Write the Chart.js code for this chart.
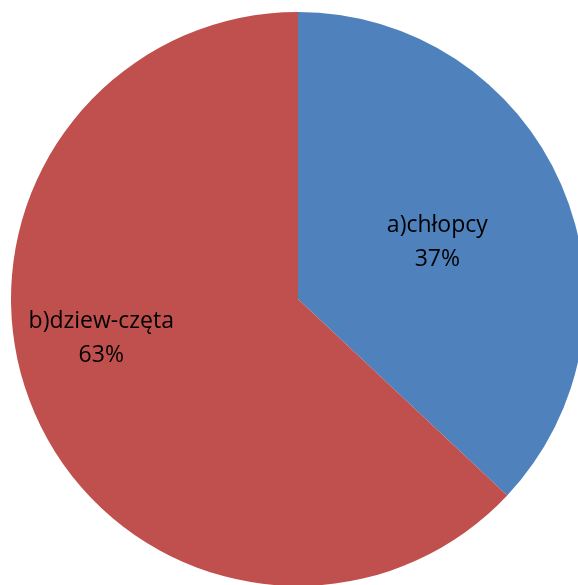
<!DOCTYPE html>
<html lang="pl">
<head>
  <meta charset="UTF-8" />
  <title>Pie</title>
  <script src="https://cdn.jsdelivr.net/npm/chart.js"></script>
  <style>
    html, body { margin: 0; padding: 0; background: #fff; overflow: hidden; }
    .wrap { width: 578px; height: 585px; }
  </style>
</head>
<body>
  <div class="wrap"><canvas id="pie" width="578" height="585"></canvas></div>
  <script>
    const categories = ['a)chłopcy', 'b)dziew-częta'];
    const values = [37, 63];
    const colors = ['#4F81BD', '#C0504D'];

    // where each label sits: angle from 12 o'clock (deg) and fraction of radius
    const labelSpots = [
      { angle: 70.5, dist: 0.515 },
      { angle: 256.5, dist: 0.705 }
    ];

    const pieLabels = {
      id: 'pieLabels',
      afterDatasetsDraw(chart) {
        const ctx = chart.ctx;
        const meta = chart.getDatasetMeta(0);
        const total = values.reduce((a, b) => a + b, 0);
        ctx.save();
        ctx.fillStyle = '#000';
        ctx.font = '23px "Open Sans", sans-serif';
        ctx.textAlign = 'center';
        ctx.textBaseline = 'alphabetic';
        meta.data.forEach((arc, i) => {
          const spot = labelSpots[i];
          const a = spot.angle * Math.PI / 180;
          const r = arc.outerRadius * spot.dist;
          const x = arc.x + r * Math.sin(a);
          const y = arc.y - r * Math.cos(a);
          const pct = Math.round(values[i] / total * 100) + '%';
          ctx.fillText(categories[i], x, y - 18);
          ctx.fillText(pct, x, y + 16);
        });
        ctx.restore();
      }
    };

    new Chart(document.getElementById('pie'), {
      type: 'pie',
      data: {
        labels: categories,
        datasets: [{
          data: values,
          backgroundColor: colors,
          borderWidth: 0
        }]
      },
      options: {
        responsive: false,
        animation: false,
        radius: 287,
        layout: { padding: { left: 18, top: 13, right: 0, bottom: 0 } },
        plugins: {
          legend: { display: false },
          tooltip: { enabled: false }
        }
      },
      plugins: [pieLabels]
    });
  </script>
</body>
</html>
